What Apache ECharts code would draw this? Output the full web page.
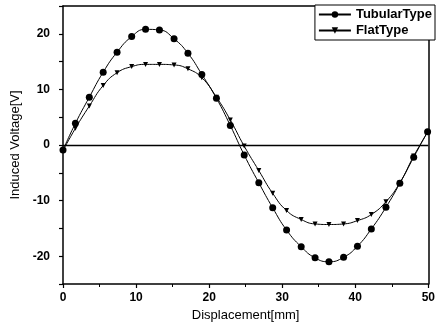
<!DOCTYPE html>
<html>
<head>
    <meta charset="utf-8">
    <title>Induced Voltage</title>
    <script src="https://cdn.jsdelivr.net/npm/echarts@6/dist/echarts.min.js"></script>
</head>
<style>
    html, body {
        margin: 0;
        background: #fff;
    }
    #main {
        width: 438px;
        height: 328px;
    }
</style>
<body>
    <div id="main"></div>
    <script type="text/javascript">
        // displacement [mm] of each measured point
        var displacement = [0, 1.7, 3.6, 5.5, 7.4, 9.4, 11.3, 13.2, 15.2, 17.1, 19.0, 21.0, 22.9, 24.8,
            26.8, 28.7, 30.6, 32.6, 34.5, 36.4, 38.4, 40.3, 42.2, 44.2, 46.1, 48.0, 49.9];
        // induced voltage [V]
        var tubularType = [-0.9, 3.9, 8.6, 13.1, 16.7, 19.5, 20.8, 20.7, 19.1, 16.5, 12.7, 8.4, 3.5, -1.8,
            -6.8, -11.3, -15.3, -18.3, -20.3, -21.0, -20.2, -18.2, -15.1, -11.2, -6.9, -2.2, 2.4];
        var flatType = [-1.0, 3.0, 7.0, 10.7, 13.0, 14.1, 14.5, 14.5, 14.4, 13.7, 12.1, 8.6, 4.5, -0.2,
            -4.6, -8.7, -11.8, -13.4, -14.2, -14.3, -14.2, -13.6, -12.5, -10.2, -6.8, -2.0, 2.3];
        var seriesNames = ['TubularType', 'FlatType'];

        function pairs(xs, ys) {
            var out = [];
            for (var i = 0; i < xs.length; i++) {
                out.push([xs[i], ys[i]]);
            }
            return out;
        }

        var font = "'Liberation Sans', Arial, sans-serif";
        var black = '#000';

        var option = {
            animation: false,
            textStyle: { fontFamily: font },
            grid: { left: 63, right: 5, top: 6, bottom: 44 },
            legend: {
                data: seriesNames,
                orient: 'vertical',
                right: 3,
                top: 5,
                itemWidth: 32,
                itemHeight: 8,
                itemGap: 3,
                padding: [3, 3, 3, 3],
                borderColor: black,
                borderWidth: 1,
                backgroundColor: '#fff',
                textStyle: { color: black, fontSize: 13, fontWeight: 'bold', fontFamily: font }
            },
            xAxis: [{
                type: 'value',
                position: 'bottom',
                min: 0,
                max: 50,
                interval: 10,
                name: 'Displacement[mm]',
                nameLocation: 'middle',
                nameGap: 25,
                nameTextStyle: { color: black, fontSize: 13, fontFamily: font },
                axisLine: { show: true, onZero: false, lineStyle: { color: black, width: 1.5 } },
                axisTick: { show: true, length: 4, lineStyle: { color: black, width: 1.2 } },
                minorTick: { show: true, splitNumber: 2, length: 3, lineStyle: { color: black } },
                splitLine: { show: false },
                axisLabel: { margin: 8, fontSize: 12, fontWeight: 'bold', color: black, fontFamily: font }
            }, {
                type: 'value',
                position: 'top',
                min: 0,
                max: 50,
                axisLine: { show: true, onZero: false, lineStyle: { color: black, width: 1.5 } },
                axisTick: { show: false },
                axisLabel: { show: false },
                splitLine: { show: false }
            }],
            yAxis: [{
                type: 'value',
                position: 'left',
                min: -25,
                max: 25,
                interval: 5,
                name: 'Induced Voltage[V]',
                nameLocation: 'middle',
                nameGap: 39,
                nameTextStyle: { color: black, fontSize: 13, fontFamily: font },
                axisLine: { show: true, onZero: false, lineStyle: { color: black, width: 1.5 } },
                axisTick: { show: true, length: 4, lineStyle: { color: black, width: 1.2 } },
                splitLine: { show: false },
                axisLabel: {
                    margin: 13,
                    fontSize: 12,
                    fontWeight: 'bold',
                    color: black,
                    fontFamily: font,
                    formatter: function (v) {
                        return v % 10 === 0 ? String(v) : '';
                    }
                }
            }, {
                type: 'value',
                position: 'right',
                min: -25,
                max: 25,
                axisLine: { show: true, onZero: false, lineStyle: { color: black, width: 1.5 } },
                axisTick: { show: false },
                axisLabel: { show: false },
                splitLine: { show: false }
            }],
            series: [{
                name: seriesNames[0],
                type: 'line',
                smooth: true,
                data: pairs(displacement, tubularType),
                symbol: 'circle',
                symbolSize: 7,
                itemStyle: { color: black },
                lineStyle: { color: black, width: 1 },
                markLine: {
                    silent: true,
                    symbol: ['none', 'none'],
                    label: { show: false },
                    lineStyle: { color: black, type: 'solid', width: 1.3 },
                    data: [{ yAxis: 0 }]
                }
            }, {
                name: seriesNames[1],
                type: 'line',
                smooth: true,
                data: pairs(displacement, flatType),
                symbol: 'triangle',
                symbolRotate: 180,
                symbolSize: 5,
                itemStyle: { color: black },
                lineStyle: { color: black, width: 1 }
            }]
        };

        var myChart = echarts.init(document.getElementById('main'));
        myChart.setOption(option);
    </script>
</body>
</html>
